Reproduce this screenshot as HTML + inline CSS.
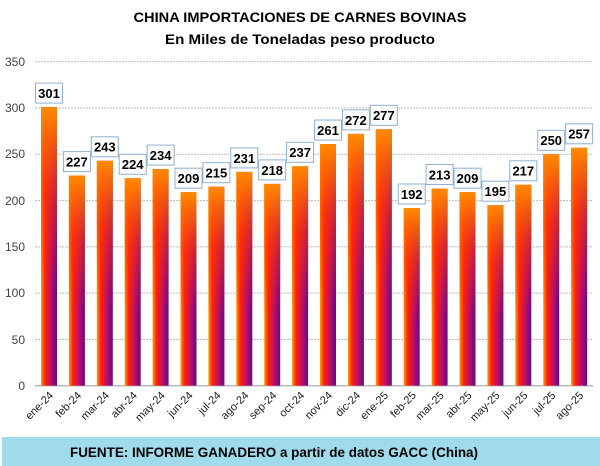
<!DOCTYPE html>
<html><head><meta charset="utf-8"><style>
html,body{margin:0;padding:0;background:#fff;}
svg{display:block;font-family:"Liberation Sans",sans-serif;}
</style></head><body>
<svg width="600" height="466" viewBox="0 0 600 466" xmlns="http://www.w3.org/2000/svg">
<defs>
<linearGradient id="h" x1="0" y1="0" x2="1" y2="0">
<stop offset="0" stop-color="#ffa000"/><stop offset="0.25" stop-color="#ff2010"/><stop offset="0.6" stop-color="#c01060"/><stop offset="1" stop-color="#600a90"/>
</linearGradient>
<linearGradient id="v" x1="0" y1="0" x2="0" y2="1">
<stop offset="0" stop-color="#ff8a00" stop-opacity="1"/><stop offset="0.3" stop-color="#ff3a00" stop-opacity="0.6"/><stop offset="0.65" stop-color="#ff2000" stop-opacity="0"/>
</linearGradient>
</defs>
<text x="300" y="22" text-anchor="middle" font-weight="bold" font-size="14" textLength="333" lengthAdjust="spacingAndGlyphs">CHINA IMPORTACIONES DE CARNES BOVINAS</text>
<text x="300" y="44" text-anchor="middle" font-weight="bold" font-size="14" textLength="270" lengthAdjust="spacingAndGlyphs">En Miles de Toneladas peso producto</text>
<g stroke="#bbb" stroke-width="1" stroke-dasharray="2,1">
<line x1="35" y1="61.7" x2="593" y2="61.7"/><line x1="35" y1="108" x2="593" y2="108"/><line x1="35" y1="154.3" x2="593" y2="154.3"/><line x1="35" y1="200.6" x2="593" y2="200.6"/><line x1="35" y1="246.9" x2="593" y2="246.9"/><line x1="35" y1="293.1" x2="593" y2="293.1"/><line x1="35" y1="339.4" x2="593" y2="339.4"/>
</g>
<line x1="35" y1="385.7" x2="593" y2="385.7" stroke="#bbb" stroke-width="1.5"/>
<g font-size="12" fill="#444" text-anchor="end">
<text x="25" y="66">350</text><text x="25" y="112">300</text><text x="25" y="158">250</text><text x="25" y="205">200</text><text x="25" y="251">150</text><text x="25" y="297">100</text><text x="25" y="344">50</text><text x="25" y="390">0</text>
</g>
<g>
<rect x="41" y="107.1" width="16" height="278.6" fill="url(#h)"/><rect x="41" y="107.1" width="16" height="278.6" fill="url(#v)"/>
<rect x="68.9" y="175.6" width="16" height="210.1" fill="url(#h)"/><rect x="68.9" y="175.6" width="16" height="210.1" fill="url(#v)"/>
<rect x="96.8" y="160.8" width="16" height="224.9" fill="url(#h)"/><rect x="96.8" y="160.8" width="16" height="224.9" fill="url(#v)"/>
<rect x="124.7" y="178.3" width="16" height="207.4" fill="url(#h)"/><rect x="124.7" y="178.3" width="16" height="207.4" fill="url(#v)"/>
<rect x="152.6" y="169.1" width="16" height="216.6" fill="url(#h)"/><rect x="152.6" y="169.1" width="16" height="216.6" fill="url(#v)"/>
<rect x="180.5" y="192.2" width="16" height="193.5" fill="url(#h)"/><rect x="180.5" y="192.2" width="16" height="193.5" fill="url(#v)"/>
<rect x="208.4" y="186.7" width="16" height="199" fill="url(#h)"/><rect x="208.4" y="186.7" width="16" height="199" fill="url(#v)"/>
<rect x="236.3" y="171.9" width="16" height="213.8" fill="url(#h)"/><rect x="236.3" y="171.9" width="16" height="213.8" fill="url(#v)"/>
<rect x="264.2" y="183.9" width="16" height="201.8" fill="url(#h)"/><rect x="264.2" y="183.9" width="16" height="201.8" fill="url(#v)"/>
<rect x="292.1" y="166.3" width="16" height="219.4" fill="url(#h)"/><rect x="292.1" y="166.3" width="16" height="219.4" fill="url(#v)"/>
<rect x="320" y="144.1" width="16" height="241.6" fill="url(#h)"/><rect x="320" y="144.1" width="16" height="241.6" fill="url(#v)"/>
<rect x="347.9" y="133.9" width="16" height="251.8" fill="url(#h)"/><rect x="347.9" y="133.9" width="16" height="251.8" fill="url(#v)"/>
<rect x="375.8" y="129.3" width="16" height="256.4" fill="url(#h)"/><rect x="375.8" y="129.3" width="16" height="256.4" fill="url(#v)"/>
<rect x="403.7" y="208" width="16" height="177.7" fill="url(#h)"/><rect x="403.7" y="208" width="16" height="177.7" fill="url(#v)"/>
<rect x="431.6" y="188.5" width="16" height="197.2" fill="url(#h)"/><rect x="431.6" y="188.5" width="16" height="197.2" fill="url(#v)"/>
<rect x="459.5" y="192.2" width="16" height="193.5" fill="url(#h)"/><rect x="459.5" y="192.2" width="16" height="193.5" fill="url(#v)"/>
<rect x="487.4" y="205.2" width="16" height="180.5" fill="url(#h)"/><rect x="487.4" y="205.2" width="16" height="180.5" fill="url(#v)"/>
<rect x="515.3" y="184.8" width="16" height="200.9" fill="url(#h)"/><rect x="515.3" y="184.8" width="16" height="200.9" fill="url(#v)"/>
<rect x="543.2" y="154.3" width="16" height="231.4" fill="url(#h)"/><rect x="543.2" y="154.3" width="16" height="231.4" fill="url(#v)"/>
<rect x="571.1" y="147.8" width="16" height="237.9" fill="url(#h)"/><rect x="571.1" y="147.8" width="16" height="237.9" fill="url(#v)"/>
</g>
<g fill="#fff" stroke="#8fb0d0" stroke-width="1">
<rect x="35.5" y="83.1" width="27" height="20"/>
<rect x="63.4" y="151.6" width="27" height="20"/>
<rect x="91.3" y="136.8" width="27" height="20"/>
<rect x="119.2" y="154.3" width="27" height="20"/>
<rect x="147.1" y="145.1" width="27" height="20"/>
<rect x="175" y="168.2" width="27" height="20"/>
<rect x="202.9" y="162.7" width="27" height="20"/>
<rect x="230.8" y="147.9" width="27" height="20"/>
<rect x="258.7" y="159.9" width="27" height="20"/>
<rect x="286.6" y="142.3" width="27" height="20"/>
<rect x="314.5" y="120.1" width="27" height="20"/>
<rect x="342.4" y="109.9" width="27" height="20"/>
<rect x="370.3" y="105.3" width="27" height="20"/>
<rect x="398.2" y="184" width="27" height="20"/>
<rect x="426.1" y="164.5" width="27" height="20"/>
<rect x="454" y="168.2" width="27" height="20"/>
<rect x="481.9" y="181.2" width="27" height="20"/>
<rect x="509.8" y="160.8" width="27" height="20"/>
<rect x="537.7" y="130.3" width="27" height="20"/>
<rect x="565.6" y="123.8" width="27" height="20"/>
</g>
<g font-size="13" font-weight="bold" text-anchor="middle" fill="#000">
<text x="49" y="98">301</text><text x="76.9" y="166.5">227</text><text x="104.8" y="151.7">243</text><text x="132.7" y="169.2">224</text><text x="160.6" y="160">234</text><text x="188.5" y="183.1">209</text><text x="216.4" y="177.6">215</text><text x="244.3" y="162.8">231</text><text x="272.2" y="174.8">218</text><text x="300.1" y="157.2">237</text><text x="328" y="135">261</text><text x="355.9" y="124.8">272</text><text x="383.8" y="120.2">277</text><text x="411.7" y="198.9">192</text><text x="439.6" y="179.4">213</text><text x="467.5" y="183.1">209</text><text x="495.4" y="196.1">195</text><text x="523.3" y="175.7">217</text><text x="551.2" y="145.2">250</text><text x="579.1" y="138.7">257</text>
</g>
<g font-size="11" fill="#222" text-anchor="end">
<text transform="translate(54,396) rotate(-45)">ene-24</text>
<text transform="translate(81.9,396) rotate(-45)">feb-24</text>
<text transform="translate(109.8,396) rotate(-45)">mar-24</text>
<text transform="translate(137.7,396) rotate(-45)">abr-24</text>
<text transform="translate(165.6,396) rotate(-45)">may-24</text>
<text transform="translate(193.5,396) rotate(-45)">jun-24</text>
<text transform="translate(221.4,396) rotate(-45)">jul-24</text>
<text transform="translate(249.3,396) rotate(-45)">ago-24</text>
<text transform="translate(277.2,396) rotate(-45)">sep-24</text>
<text transform="translate(305.1,396) rotate(-45)">oct-24</text>
<text transform="translate(333,396) rotate(-45)">nov-24</text>
<text transform="translate(360.9,396) rotate(-45)">dic-24</text>
<text transform="translate(388.8,396) rotate(-45)">ene-25</text>
<text transform="translate(416.7,396) rotate(-45)">feb-25</text>
<text transform="translate(444.6,396) rotate(-45)">mar-25</text>
<text transform="translate(472.5,396) rotate(-45)">abr-25</text>
<text transform="translate(500.4,396) rotate(-45)">may-25</text>
<text transform="translate(528.3,396) rotate(-45)">jun-25</text>
<text transform="translate(556.2,396) rotate(-45)">jul-25</text>
<text transform="translate(584.1,396) rotate(-45)">ago-25</text>
</g>
<rect x="2" y="437" width="598" height="29" fill="#9fdbea"/>
<text x="70" y="457" font-size="14" font-weight="bold" fill="#000" textLength="408" lengthAdjust="spacingAndGlyphs">FUENTE: INFORME GANADERO a partir de datos GACC (China)</text>
</svg>
</body></html>
